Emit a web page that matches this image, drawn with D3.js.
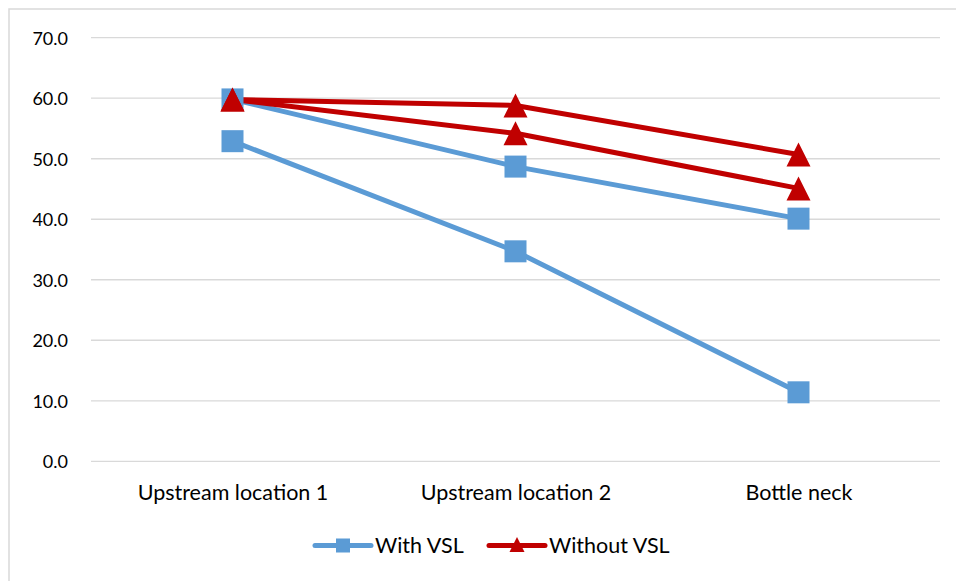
<!DOCTYPE html>
<html>
<head>
<meta charset="utf-8">
<script src="https://cdn.jsdelivr.net/npm/d3@7"></script>
<style>
  html, body { margin: 0; padding: 0; background: #fff; }
  svg { display: block; }
  text { font-family: Lato, "Open Sans", sans-serif; fill: #000; }
</style>
</head>
<body>
<svg id="chart" width="956" height="581"></svg>
<script>
// ---- data ----
const categories = ["Upstream location 1", "Upstream location 2", "Bottle neck"];
const withVSL_a = [59.8, 48.7, 40.1];
const withVSL_b = [52.9, 34.7, 11.4];
const withoutVSL_a = [59.8, 58.8, 50.7];
const withoutVSL_b = [59.8, 54.2, 45.1];
const yTicks = [0, 10, 20, 30, 40, 50, 60, 70];
const legendLabels = ["With VSL", "Without VSL"];

const series = [
  { values: withVSL_a, group: 0 },
  { values: withVSL_b, group: 0 },
  { values: withoutVSL_a, group: 1 },
  { values: withoutVSL_b, group: 1 }
];
const colors = ["#5b9bd5", "#c00000"];

const svg = d3.select("#chart");

// outer chart border
svg.append("rect")
  .attr("x", 9).attr("y", 9)
  .attr("width", 960).attr("height", 600)
  .attr("fill", "#fff")
  .attr("stroke", "#d9d9d9").attr("stroke-width", 1.5);

const x0 = 91, x1 = 940, yTop = 37.7, yBot = 461.3;
const x = d3.scalePoint().domain(categories).range([x0, x1]).padding(0.5);
const y = d3.scaleLinear().domain([0, 70]).range([yBot, yTop]);

// gridlines
svg.append("g").selectAll("line").data(yTicks).join("line")
  .attr("x1", x0).attr("x2", x1)
  .attr("y1", d => y(d)).attr("y2", d => y(d))
  .attr("stroke", "#d9d9d9").attr("stroke-width", 1.3);

// y axis labels
const yAxis = d3.axisLeft(y).tickValues(yTicks).tickFormat(d3.format(".1f")).tickSize(0).tickPadding(0);
const gy = svg.append("g").attr("transform", "translate(68,0)").call(yAxis);
gy.select(".domain").remove();
gy.selectAll("text").attr("font-size", 18).attr("font-family", "Lato, 'Open Sans', sans-serif").attr("fill", "#000").attr("dy", "0.36em");

// x axis labels
const xAxis = d3.axisBottom(x).tickSize(0).tickPadding(0);
const gx = svg.append("g").attr("transform", "translate(0,0)").call(xAxis);
gx.select(".domain").remove();
gx.selectAll("text").attr("font-size", 21.5).attr("font-family", "Lato, 'Open Sans', sans-serif").attr("fill", "#000").attr("y", 499.5).attr("dy", 0);

const line = d3.line().x((d, i) => x(categories[i])).y(d => y(d));

function triPath(s) {
  const h = s / 2;
  return `M0,${-h}L${h},${h}L${-h},${h}Z`;
}

const gs = svg.append("g");
series.forEach(s => {
  const c = colors[s.group];
  gs.append("path").datum(s.values)
    .attr("d", line)
    .attr("fill", "none").attr("stroke", c).attr("stroke-width", 5)
    .attr("stroke-linejoin", "round");
});
series.forEach(s => {
  const c = colors[s.group];
  const g = gs.append("g");
  s.values.forEach((v, i) => {
    const cx = x(categories[i]), cy = y(v);
    if (s.group === 0) {
      g.append("rect").attr("x", cx - 11).attr("y", cy - 11)
        .attr("width", 22).attr("height", 22).attr("fill", c);
    } else {
      g.append("path").attr("d", triPath(24))
        .attr("transform", `translate(${cx},${cy})`).attr("fill", c);
    }
  });
});

// legend
const legendY = 545.5;
const legendItems = [
  { label: legendLabels[0], group: 0, x: 315 },
  { label: legendLabels[1], group: 1, x: 489 }
];
legendItems.forEach(it => {
  const c = colors[it.group];
  const g = svg.append("g");
  g.append("line").attr("x1", it.x).attr("x2", it.x + 56)
    .attr("y1", legendY).attr("y2", legendY)
    .attr("stroke", c).attr("stroke-width", 5).attr("stroke-linecap", "round");
  const mx = it.x + 28;
  if (it.group === 0) {
    g.append("rect").attr("x", mx - 7).attr("y", legendY - 7)
      .attr("width", 14).attr("height", 14).attr("fill", c);
  } else {
    g.append("path").attr("d", triPath(15))
      .attr("transform", `translate(${mx},${legendY - 1})`).attr("fill", c);
  }
  g.append("text").attr("x", it.x + 60).attr("y", 552.5)
    .attr("font-size", 21.5).text(it.label);
});
</script>
</body>
</html>
